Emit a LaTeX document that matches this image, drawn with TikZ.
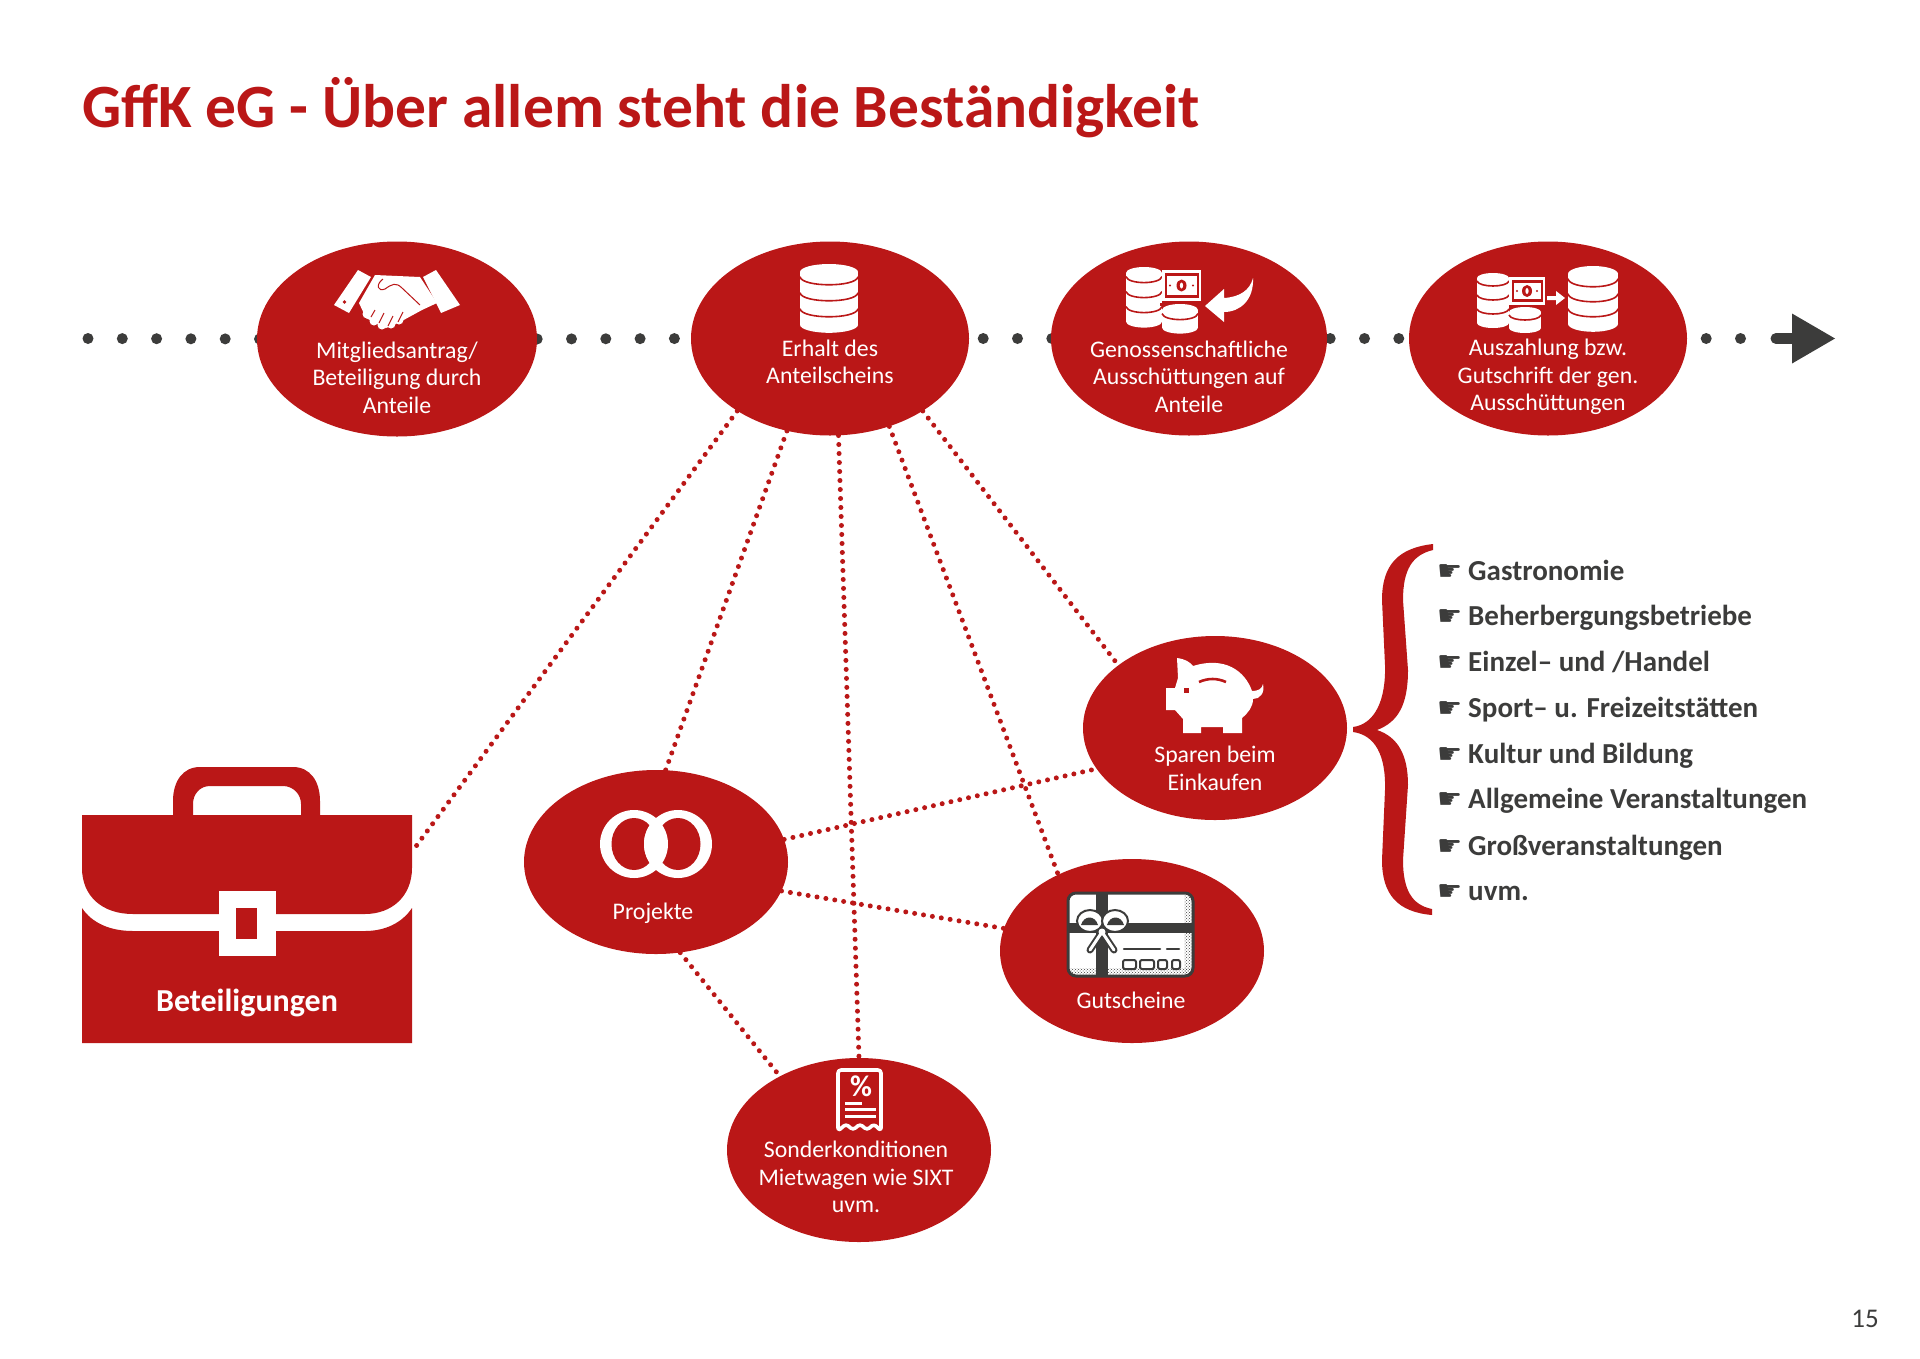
\documentclass[tikz,border=0pt]{standalone}
\usepackage{fontspec}
\setmainfont{Carlito}
\newfontfamily\symfont{DejaVu Sans}
\usetikzlibrary{shapes.geometric,patterns,backgrounds}
\definecolor{gffred}{HTML}{BA1717}
\definecolor{gffdark}{HTML}{3C3C3B}
\newcommand{\dbstack}[6]{%
\fill[white] (#1-#3,#2) rectangle (#1+#3,#2+#6*#5+0.6*#4);
\fill[white] (#1,#2) ellipse ({#3} and {#4});
\fill[white] (#1,#2+#6*#5+0.6*#4) ellipse ({#3} and {#4});
\foreach \k in {1,...,#6} \draw[gffred, line width=1.6] (#1-#3,#2+0.6*#4+\k*#5-#5) .. controls +(2,1.33*#4) and +(-2,1.33*#4) .. (#1+#3,#2+0.6*#4+\k*#5-#5);
}
\newcommand{\banknote}[4]{%
\fill[white] (#1,#2) rectangle (#3,#4);
\fill[gffred] (#1+2.5,#2+3) rectangle (#3-2.5,#4-3);
\fill[white] (#1+4.5,#2+6) rectangle (#3-4.5,#4-6);
\fill[gffred] ({(#1+#3)/2},{(#2+#4)/2}) ellipse (5 and 6);
\fill[white] ({(#1+#3)/2},{(#2+#4)/2}) ellipse (1.6 and 3);
\fill[gffred] (#1+8,{(#2+#4)/2}) circle (1.2);
\fill[gffred] (#3-8,{(#2+#4)/2}) circle (1.2);
}
\tikzset{
  oval/.style={ellipse, fill=gffred, inner sep=0pt, minimum width=264, minimum height=184},
  ovaltop/.style={oval, minimum width=278, minimum height=194},
  ovaltext/.style={text=white, font=\fontsize{23.8}{27.5}\selectfont, align=center, inner sep=0pt},
  listitem/.style={text=gffdark, font=\fontsize{29}{30}\selectfont\bfseries, anchor=base west, inner sep=0pt},
  handmark/.style={text=gffdark, font=\fontsize{28}{30}\symfont, anchor=base west, inner sep=0pt},
  dotline/.style={gffdark, line width=11, line cap=round, dash pattern=on 0pt off 34.3pt},
  link/.style={gffred, line width=5, line cap=round, dash pattern=on 0pt off 9pt}
}
\begin{document}
\begin{tikzpicture}[x=1pt, y=-1pt]
\useasboundingbox (0,0) rectangle (1920,1358);
\node[text=gffred, font=\fontsize{61.5}{64}\selectfont\bfseries, anchor=base west, inner sep=0pt] (title) at (82,127) {GffK eG - Über allem steht die Beständigkeit};
\node[text=gffdark, font=\fontsize{27}{28}\selectfont, anchor=base east, inner sep=0pt] (pageno) at (1879,1327) {15};

% top row
\node[ovaltop, minimum width=280, minimum height=195] (antrag) at (397,339) {};
\node[ovaltop] (erhalt) at (830,338.5) {};
\node[ovaltop, minimum width=276] (aussch) at (1189,338.5) {};
\node[ovaltop] (auszahl) at (1548,338.5) {};
\coordinate (rowstart) at (88,338.5);
\coordinate (rowend) at (1741,338.5);
\coordinate (arrowtip) at (1835,338.5);
\begin{scope}[on background layer]
\draw[dotline] (rowstart) -- ([xshift=3pt]antrag.west);
\draw[dotline] (antrag.east) -- (erhalt.west);
\draw[dotline, dash phase=20.3pt] (erhalt.east) -- ([xshift=3pt]aussch.west);
\draw[dotline, dash phase=31.3pt] (aussch.east) -- (auszahl.west);
\draw[dotline, dash phase=15.3pt] (auszahl.east) -- (rowend);
\end{scope}
\draw[gffdark, line width=11, line cap=round] (1776,338.5) -- (1795,338.5);
\fill[gffdark] (arrowtip) -- (1792,313.5) -- (1792,363.5) -- cycle;

% lower ovals
\node[oval] (sparen) at (1215,728) {};
\node[oval] (projekte) at (656,862) {};
\node[oval] (gutschein) at (1132,951) {};
\node[oval] (sonder) at (859,1150) {};
\coordinate (bagedge) at (414,849);
\begin{scope}[on background layer]
\draw[link] (erhalt.218.7) -- (bagedge);
\draw[link] (erhalt.245.6) -- (projekte.84.4);
\draw[link] (erhalt.275) -- (sonder.90);
\draw[link] (erhalt.304.4) -- (gutschein.134);
\draw[link] (erhalt.322) -- (sparen.147);
\draw[link] (projekte.10) -- (sparen.199);
\draw[link] (projekte.-13.5) -- (gutschein.170);
\draw[link] (projekte.-75.4) -- (sonder.137.7);
\end{scope}

% labels
\node[ovaltext] (antragtxt) at (397,377.5) {Mitgliedsantrag/\\Beteiligung durch\\Anteile};
\node[ovaltext] (erhalttxt) at (830,362) {Erhalt des\\Anteilscheins};
\node[ovaltext] (ausschtxt) at (1189,376.5) {Genossenschaftliche\\Ausschüttungen auf\\Anteile};
\node[ovaltext] (auszahltxt) at (1548,377) {Auszahlung bzw.\\Gutschrift der gen.\\Ausschüttungen};
\node[ovaltext] (sparentxt) at (1215,768.5) {Sparen beim\\Einkaufen};
\node[ovaltext] (projektetxt) at (653,913) {Projekte};
\node[ovaltext] (gutscheintxt) at (1131,1000) {Gutscheine};
\node[ovaltext] (sondertxt) at (856,1177) {Sonderkonditionen\\Mietwagen wie SIXT\\uvm.};

% bag
\begin{scope}[yshift=-1pt]
\fill[gffred] (173,814) -- (173,800) .. controls (173,780) and (183,766) .. (200,766) -- (293,766) .. controls (310,766) and (320,780) .. (320,800) -- (320,814) -- (301,814) -- (301,803) .. controls (301,793) and (293,785) .. (283,785) -- (210,785) .. controls (200,785) and (193,793) .. (193,803) -- (193,814) -- cycle;
\fill[gffred] (82,814) -- (412,814) -- (412,867) .. controls (412,895) and (392,913) .. (365,913) -- (133,913) .. controls (102,913) and (82,895) .. (82,867) -- cycle;
\fill[gffred] (82,907) .. controls (92,922) and (110,930) .. (133,930) -- (365,930) .. controls (385,930) and (402,922) .. (412,907) -- (412,1042) -- (82,1042) -- cycle;
\fill[white] (218.5,890) rectangle (276,955);
\fill[gffred] (236,907) rectangle (257,938);
\end{scope}
\node[text=white, font=\fontsize{32}{33}\selectfont\bfseries, inner sep=0pt] (bagtxt) at (247,1003) {Beteiligungen};

% brace
\fill[gffred] (1433,544) .. controls (1398,548) and (1382,565) .. (1382,600) -- (1385,665) .. controls (1386,700) and (1375,724) .. (1353,727) -- (1353,732) .. controls (1375,735) and (1386,755) .. (1385,790) -- (1382,860) .. controls (1382,895) and (1398,912) .. (1432,915) -- (1432,909) .. controls (1412,905) and (1403,890) .. (1403,860) -- (1408,785) .. controls (1408,755) and (1398,737) .. (1377,730) .. controls (1398,722) and (1408,705) .. (1408,670) -- (1403,600) .. controls (1403,570) and (1412,555) .. (1433,550) -- cycle;

% list
\foreach \y/\t [count=\i] in {580/{Gastronomie}, 625/{Beherbergungsbetriebe}, 671.5/{Einzel– und /Handel}, 717/{Sport– u. Freizeitstätten}, 763/{Kultur und Bildung}, 808/{Allgemeine Veranstaltungen}, 855/{Großveranstaltungen}, 900/{uvm.}}{
  \node[handmark] (hand\i) at (1437,\y) {☛};
  \node[listitem] (item\i) at (1468,\y) {\t};
}

% handshake
\fill[white] (358,270) -- (371,277) -- (349,313) -- (334,305) -- cycle;
\fill[white] (436,270) -- (460,305) -- (441,313) -- (423,277) -- cycle;
\fill[white] (375,275) -- (420,277) -- (437,303) -- (422,310) -- (400,322) -- (386,328) -- (366,318) -- (359,303) -- cycle;
\foreach \a/\b in {367/314, 374/321, 382/325, 391/324, 399/320} \fill[white] (\a,\b) circle (4.5);
\fill[gffred] (344.5,302) circle (1.8);
\draw[gffred, line width=1] (383,279) .. controls (375,285) and (378,292) .. (385,289) .. controls (392,284) and (396,282) .. (402,288) -- (420,305);
\draw[gffred, line width=1] (371,317) -- (375,310) (379,323) -- (384,313) (388,326) -- (393,316) (398,322) -- (403,312);

% erhalt db
\dbstack{829}{272}{29}{8}{16}{3}

% aussch icon
\dbstack{1144}{273}{18}{6}{15}{3}
\banknote{1162}{270}{1201}{301}
\fill[gffred] (1160,303) rectangle (1200,306);
\dbstack{1180}{310}{18}{6}{14}{1}
\fill[white] (1205,306) -- (1224,289) -- (1224,298) .. controls (1240,297) and (1250,290) .. (1253,278) .. controls (1254,300) and (1240,312) .. (1224,312) -- (1224,322) -- cycle;

% auszahl icon
\dbstack{1493}{278}{16}{5}{14}{3}
\banknote{1509}{277}{1545}{305}
\dbstack{1525}{312}{16}{5}{13}{1}
\fill[white] (1547,296) -- (1556,296) -- (1556,291) -- (1565,298) -- (1556,305) -- (1556,300) -- (1547,300) -- cycle;
\dbstack{1593}{274}{25}{8}{15}{3}

% piggy
\fill[white] (1177,658) .. controls (1185,659) and (1190,662) .. (1193,666) .. controls (1225,656) and (1245,671) .. (1252,691) .. controls (1258,691) and (1262,689) .. (1263,684) .. controls (1265,693) and (1260,699) .. (1253,699) .. controls (1253,707) and (1248,713) .. (1242,718) -- (1242,733) -- (1223,733) -- (1223,727) -- (1201,727) -- (1201,733) -- (1183,733) -- (1183,719) -- (1175,710) -- (1166,710) -- (1166,688) -- (1175,688) -- (1178,678) -- cycle;
\draw[gffred, line width=2.6] (1199,682) .. controls (1208,678) and (1217,678) .. (1226,682);
\fill[gffred] (1184,688) rectangle (1189,693);

% rings
\fill[white] (634,844) circle (34);
\fill[gffred] (634,844) ellipse (22.5 and 26);
\fill[white] (678,844) circle (34);
\fill[gffred] (678,844) ellipse (22.5 and 26);
\begin{scope}
\clip (634,844) circle (34);
\fill[white] (678,844) circle (34);
\end{scope}

% gift card
\fill[white, draw=gffdark, line width=3, rounded corners=8] (1068,893) rectangle (1193,976);
\fill[pattern=crosshatch dots, pattern color=gffdark] (1184,895) rectangle (1192,975);
\fill[pattern=crosshatch dots, pattern color=gffdark] (1070,968) rectangle (1192,975);
\fill[gffdark] (1096,893) rectangle (1108,977);
\fill[gffdark] (1068,923) rectangle (1193,933);
\draw[gffdark, line width=7, line cap=round] (1102,932) -- (1090,950) (1102,932) -- (1114,950);
\draw[white, line width=3, line cap=round] (1102,932) -- (1090,950) (1102,932) -- (1114,950);
\fill[white, draw=gffdark, line width=2] (1090,921) ellipse (13 and 11);
\fill[white, draw=gffdark, line width=2] (1115,921) ellipse (13 and 11);
\fill[gffdark] (1081,925) .. controls (1084,915) and (1095,915) .. (1098,925) -- cycle;
\fill[gffdark] (1107,925) .. controls (1110,915) and (1121,915) .. (1124,925) -- cycle;
\fill[white] (1102,932) circle (3.5);
\draw[gffdark, line width=2.5, line cap=round] (1124,949) -- (1160,949) (1167,949) -- (1179,949);
\foreach \a/\b in {1123/1136, 1140/1154, 1158/1167, 1172/1180}
  \draw[gffdark, fill=white, line width=2, rounded corners=2] (\a,960) rectangle (\b,969);

% receipt
\draw[white, line width=3.6, rounded corners=3, line join=round] (838,1131) -- (838,1070) -- (881,1070) -- (881,1131) -- (874,1124) -- (867,1130) -- (860,1124) -- (853,1130) -- (846,1124) -- cycle;
\node[text=white, font=\fontsize{30}{30}\selectfont\bfseries, inner sep=0pt] (percent) at (861,1086) {\%};
\draw[white, line width=3] (845,1103) -- (862,1103) (845,1109.5) -- (876,1109.5) (845,1116) -- (876,1116);
\end{tikzpicture}
\end{document}
